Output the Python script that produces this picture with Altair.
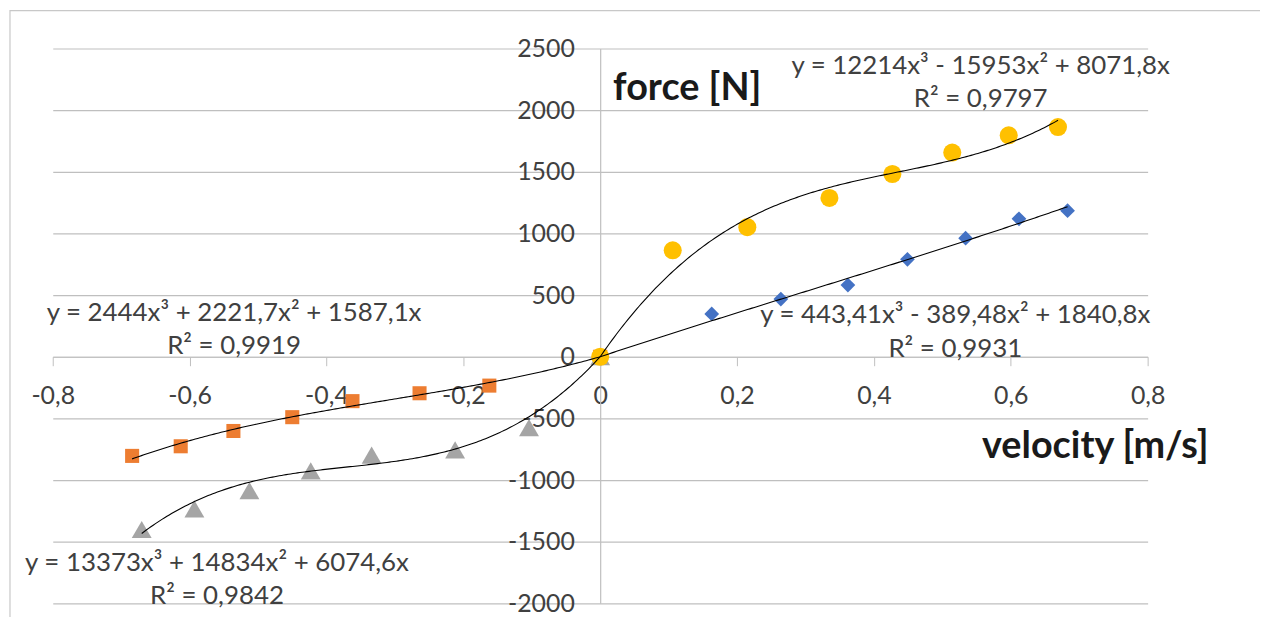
import altair as alt
import pandas as pd

# ---------------- data ----------------
x_ticks = [-0.8, -0.6, -0.4, -0.2, 0, 0.2, 0.4, 0.6, 0.8]
y_ticks = [-2000, -1500, -1000, -500, 0, 500, 1000, 1500, 2000, 2500]

yellow_x = [0, 0.106, 0.215, 0.335, 0.427, 0.5145, 0.597, 0.669]
yellow_y = [0, 863, 1051, 1288, 1482, 1656, 1796, 1863]
blue_x = [0, 0.163, 0.264, 0.362, 0.449, 0.534, 0.612, 0.683]
blue_y = [0, 347, 468, 581, 790, 962, 1119, 1185]
orange_x = [0, -0.162, -0.264, -0.362, -0.450, -0.536, -0.613, -0.684]
orange_y = [0, -234, -296, -360, -490, -602, -726, -804]
gray_x = [0, -0.104, -0.212, -0.334, -0.423, -0.5126, -0.593, -0.670]
gray_y = [0, -575, -756, -798, -925, -1086, -1234, -1401]

# trendline coefficients as printed on the chart (y = c3 x^3 + c2 x^2 + c1 x)
trend_c3 = [12214, 443.41, 2444, 13373]
trend_c2 = [-15953, -389.48, 2221.7, 14834]
trend_c1 = [8071.8, 1840.8, 1587.1, 6074.6]
trend_lo = [0, 0, -0.684, -0.670]
trend_hi = [0.669, 0.683, 0, 0]

eq_text = [
    "y = 12214x³ - 15953x² + 8071,8x", "R² = 0,9797",
    "y = 443,41x³ - 389,48x² + 1840,8x", "R² = 0,9931",
    "y = 2444x³ + 2221,7x² + 1587,1x", "R² = 0,9919",
    "y = 13373x³ + 14834x² + 6074,6x", "R² = 0,9842",
]
eq_x = [0.556, 0.556, 0.519, 0.519, -0.535, -0.535, -0.560, -0.560]
eq_y = [2355, 2089, 339, 65, 355, 83, -1677, -1944]

title_text = ["force [N]", "velocity [m/s]"]
title_x = [0.0189, 0.558]
title_y = [2169, -734]

# ---------------- styling ----------------
FONT = "Lato"
GRID = "#BFBFBF"
LAB = "#404040"
W, H = 1101, 558

xscale = alt.Scale(domain=[-0.8, 0.8], nice=False, zero=False)
yscale = alt.Scale(domain=[-2000, 2500], nice=False, zero=False)

x_axis = alt.Axis(
    values=x_ticks, title=None, grid=False, offset=-248,
    tickSize=9, tickColor=GRID, domainColor=GRID, domainWidth=1.2,
    labelFont=FONT, labelFontSize=25, labelColor=LAB,
    labelBaseline="middle", labelPadding=30, labelFlush=False,
    labelExpr="datum.value == 0 ? '0' : replace(replace(format(datum.value, '.1f'), '.', ','), '\u2212', '-')",
)
y_axis = alt.Axis(
    values=y_ticks, title=None, grid=True, gridColor=GRID, gridWidth=1.2,
    offset=-550.5, ticks=False, tickSize=0, domainColor=GRID, domainWidth=1.2,
    labelFont=FONT, labelFontSize=25, labelColor=LAB, labelPadding=26,
    labelFlush=False,
    labelExpr="replace(format(datum.value, 'd'), '\u2212', '-')",
)

X = alt.X("x:Q", scale=xscale, axis=x_axis)
Y = alt.Y("y:Q", scale=yscale, axis=y_axis)

frame = alt.Chart(alt.Data(values=[{}])).mark_rect(
    fill=None, stroke="#C8C8C8", strokeWidth=1.2
).encode(x=alt.value(-43), y=alt.value(-38), x2=alt.value(1400), y2=alt.value(800))


def pts(xs, ys):
    return pd.DataFrame({"x": xs, "y": ys})


blue = alt.Chart(pts(blue_x, blue_y)).mark_point(
    shape="diamond", filled=True, color="#4472C4", size=220, opacity=1
).encode(x=X, y=Y)
orange = alt.Chart(pts(orange_x, orange_y)).mark_point(
    shape="square", filled=True, color="#ED7D31", size=200, opacity=1
).encode(x=X, y=Y)
gray = alt.Chart(pts(gray_x, gray_y)).mark_point(
    shape="triangle-up", filled=True, color="#A5A5A5", size=400, opacity=1
).encode(x=X, y=Y)
yellow = alt.Chart(pts(yellow_x, yellow_y)).mark_point(
    shape="circle", filled=True, color="#FFC000", size=330, opacity=1
).encode(x=X, y=Y)

trends = []
for c3, c2, c1, lo, hi in zip(trend_c3, trend_c2, trend_c1, trend_lo, trend_hi):
    step = (hi - lo) / 200
    t = alt.Chart(alt.sequence(lo, hi + step / 2, step, as_="x")).transform_calculate(
        y=f"{c3} * pow(datum.x, 3) + {c2} * pow(datum.x, 2) + {c1} * datum.x"
    ).mark_line(color="#000000", strokeWidth=1.1).encode(x=X, y=Y)
    trends.append(t)

eqs = alt.Chart(pd.DataFrame({"x": eq_x, "y": eq_y, "t": eq_text})).mark_text(
    font=FONT, fontSize=26, color=LAB, align="center", baseline="middle"
).encode(x=X, y=Y, text="t:N")

titles = alt.Chart(pd.DataFrame({"x": title_x, "y": title_y, "t": title_text})).mark_text(
    font=FONT, fontSize=38, fontWeight="bold", color="#1A1A1A", align="left", baseline="middle"
).encode(x=X, y=Y, text="t:N")

chart = alt.layer(frame, blue, orange, gray, yellow, *trends, eqs, titles).properties(
    width=W, height=H,
    autosize=alt.AutoSizeParams(type="none"),
    padding={"left": 45, "top": 39, "right": 113, "bottom": 12},
    background="white",
).configure_view(stroke=None)

chart.save("out.html", embed_options={"renderer": "svg", "actions": False})
